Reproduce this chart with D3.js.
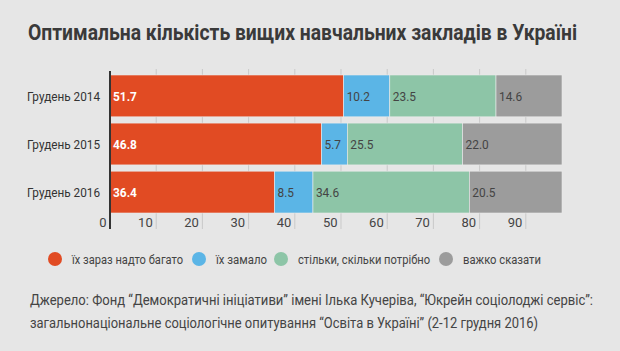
<!DOCTYPE html>
<html>
<head>
<meta charset="utf-8">
<script src="https://cdn.jsdelivr.net/npm/d3@7"></script>
<style>
  html, body { margin: 0; padding: 0; background: #e6e6e6; }
  svg { display: block; font-family: Roboto, "Noto Sans", sans-serif; }
</style>
</head>
<body>
<script>
// ---------------------------------------------------------------- data
var title = "Оптимальна кількість вищих навчальних закладів в Україні"
var years = ["Грудень 2014", "Грудень 2015", "Грудень 2016"]
var series = ["їх зараз надто багато", "їх замало", "стільки, скільки потрібно", "важко сказати"]
var tooMany = [51.7, 46.8, 36.4]
var tooFew = [10.2, 5.7, 8.5]
var enough = [23.5, 25.5, 34.6]
var hardToSay = [14.6, 22.0, 20.5]
var ticks = [0, 10, 20, 30, 40, 50, 60, 70, 80, 90]
var source = [
  "Джерело: Фонд “Демократичні ініціативи” імені Ілька Кучеріва, “Юкрейн соціолоджі сервіс”:",
  "загальнонаціональне соціологічне опитування “Освіта в Україні” (2-12 грудня 2016)"
]

var colors = ["#e14b23", "#5bb5e6", "#8dc5a7", "#9c9c9c"]

// ---------------------------------------------------------------- setup
var width = 620, height = 351
var svg = d3.select("body").append("svg")
  .attr("width", width).attr("height", height)

svg.append("rect").attr("width", width).attr("height", height).attr("fill", "#e6e6e6")

// original uses a condensed face: squeeze text horizontally
function condense(sel, f) {
  sel.each(function () {
    var w = this.getComputedTextLength()
    d3.select(this).attr("textLength", w * f).attr("lengthAdjust", "spacingAndGlyphs")
  })
}

svg.append("text")
  .attr("x", 28).attr("y", 40)
  .attr("font-size", 21.5).attr("font-weight", 700)
  .attr("fill", "#3a3a3a")
  .attr("textLength", 549).attr("lengthAdjust", "spacingAndGlyphs")
  .text(title)

// bar scale and (slightly wider) tick scale, as drawn in the original
var x = d3.scaleLinear().domain([0, 100]).range([110, 562])
var xTick = d3.scaleLinear().domain([0, 100]).range([110, 572])
var y = d3.scaleBand().domain(years).range([75, 213]).paddingInner(0.13)

// rows as stacked data
var rows = years.map((d, i) => ({ year: d, v: [tooMany[i], tooFew[i], enough[i], hardToSay[i]] }))
var stack = d3.stack().keys([0, 1, 2, 3]).value((d, k) => d.v[k])
var layers = stack(rows)

// ---------------------------------------------------------------- grid
var axis = d3.axisBottom(xTick).tickValues(ticks).tickSize(0).tickFormat(d3.format("d"))
var gx = svg.append("g").attr("transform", "translate(0,229)").call(axis)
gx.select(".domain").remove()
gx.selectAll("text")
  .attr("text-anchor", "end")
  .attr("dx", -4).attr("dy", -5)
  .attr("font-size", 13).attr("fill", "#444")
  .attr("font-family", "Roboto, sans-serif")

svg.append("g").selectAll("line")
  .data(ticks.slice(1))
  .join("line")
  .attr("x1", d => xTick(d)).attr("x2", d => xTick(d))
  .attr("y1", 69).attr("y2", 229)
  .attr("stroke", "#c9c9c9").attr("stroke-width", 1)

// ---------------------------------------------------------------- bars
var g = svg.append("g")
layers.forEach((layer, k) => {
  g.selectAll(".s" + k)
    .data(layer)
    .join("rect")
    .attr("class", "s" + k)
    .attr("x", d => x(d[0]))
    .attr("y", d => y(d.data.year))
    .attr("width", d => x(d[1]) - x(d[0]))
    .attr("height", y.bandwidth())
    .attr("fill", colors[k])
    .attr("stroke", "#ececec").attr("stroke-width", 0.6)

  g.selectAll(".l" + k)
    .data(layer)
    .join("text")
    .attr("class", "l" + k)
    .attr("x", d => x(d[0]) + 3)
    .attr("y", d => y(d.data.year) + y.bandwidth() / 2)
    .attr("dy", "0.35em")
    .attr("font-size", 13.5)
    .attr("font-weight", k == 0 ? 700 : 400)
    .attr("fill", k == 0 ? "#fff" : "#444")
    .text(d => d3.format(".1f")(d[1] - d[0]))
    .call(condense, 0.88)
})

// axis line at zero
svg.append("line")
  .attr("x1", x(0)).attr("x2", x(0))
  .attr("y1", 71).attr("y2", 229)
  .attr("stroke", "#333").attr("stroke-width", 2)

// category labels
svg.append("g").selectAll("text")
  .data(years)
  .join("text")
  .attr("x", 100)
  .attr("y", d => y(d) + y.bandwidth() / 2)
  .attr("dy", "0.35em")
  .attr("text-anchor", "end")
  .attr("font-size", 13.5)
  .attr("fill", "#333")
  .attr("textLength", 73).attr("lengthAdjust", "spacingAndGlyphs")
  .text(d => d)

// ---------------------------------------------------------------- legend
var legendX = [55, 199, 281, 446]
var legendW = [111, 51, 132, 78]
var legend = svg.append("g").selectAll("g")
  .data(series)
  .join("g")
  .attr("transform", (d, i) => "translate(" + legendX[i] + ",259)")
legend.append("circle").attr("r", 7).attr("fill", (d, i) => colors[i])
legend.append("text")
  .attr("x", 17).attr("dy", "0.35em")
  .attr("font-size", 13.5).attr("fill", "#444")
  .attr("textLength", (d, i) => legendW[i]).attr("lengthAdjust", "spacingAndGlyphs")
  .text(d => d)

// ---------------------------------------------------------------- source
var sourceW = [563, 508]
svg.append("g").selectAll("text")
  .data(source)
  .join("text")
  .attr("x", 30)
  .attr("y", (d, i) => 305 + i * 23)
  .attr("font-size", 15).attr("fill", "#444")
  .attr("textLength", (d, i) => sourceW[i]).attr("lengthAdjust", "spacingAndGlyphs")
  .text(d => d)
</script>
</body>
</html>
